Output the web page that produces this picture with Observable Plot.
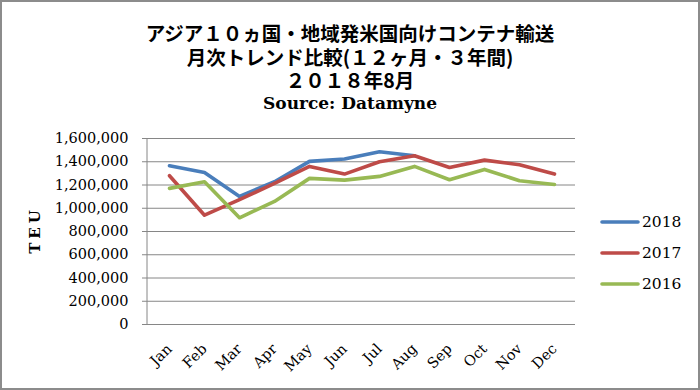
<!DOCTYPE html>
<html><head><meta charset="utf-8">
<script src="https://cdn.jsdelivr.net/npm/d3@7"></script>
<script src="https://cdn.jsdelivr.net/npm/@observablehq/plot@0.6"></script>
<style>
html,body{margin:0;padding:0;background:#fff;}
#frame{position:relative;width:700px;height:390px;box-sizing:border-box;border:2px solid #8c8c8c;background:#fff;overflow:hidden;}
#title{position:absolute;left:0;top:19px;width:696px;text-align:center;font-family:"Noto Sans CJK JP";font-weight:bold;font-size:19.5px;line-height:23.5px;color:#000;}
#title .src{font-family:"DejaVu Serif";font-weight:bold;font-size:17px;}
#chart{position:absolute;left:0;top:118px;}
#ylab{position:absolute;left:3px;top:219px;width:60px;height:18px;line-height:18px;font-family:"DejaVu Serif";font-weight:bold;font-size:15px;letter-spacing:4px;transform:rotate(-90deg);transform-origin:center;text-align:center;white-space:nowrap;}
#legend{position:absolute;left:598px;top:204px;font-family:"DejaVu Serif";font-size:15.5px;color:#000;}
#legend .item{display:flex;align-items:center;height:31px;}
#legend svg{margin-right:2px;}
</style>
</head><body>
<div id="frame">
  <div id="title"></div>
  <div id="chart"></div>
  <div id="ylab"></div>
  <div id="legend"></div>
</div>
<script>
const titleLines = ["アジア１０ヵ国・地域発米国向けコンテナ輸送", "月次トレンド比較(１２ヶ月・３年間)", "２０１８年8月"];
const sourceLine = "Source: Datamyne";
const yLabel = "TEU";
const months = ["Jan","Feb","Mar","Apr","May","Jun","Jul","Aug","Sep","Oct","Nov","Dec"];
const seriesNames = ["2018","2017","2016"];
const seriesColors = ["#4A7EBB","#BE4B48","#98B954"];
const v2018 = [1366000,1308000,1102000,1228000,1403000,1423000,1486000,1452000];
const v2017 = [1280000,940000,1074000,1214000,1360000,1294000,1400000,1451000,1351000,1414000,1374000,1294000];
const v2016 = [1171000,1228000,918000,1059000,1257000,1242000,1274000,1360000,1245000,1334000,1237000,1205000];
const yTicks = [0,200000,400000,600000,800000,1000000,1200000,1400000,1600000];

const title = document.getElementById("title");
titleLines.forEach(t => { const d = document.createElement("div"); d.textContent = t; title.appendChild(d); });
const s = document.createElement("div"); s.className = "src"; s.textContent = sourceLine; title.appendChild(s);
document.getElementById("ylab").textContent = yLabel;

const seriesValues = [v2018, v2017, v2016];
const rows = [];
seriesValues.forEach((vals, k) => vals.forEach((v, i) => rows.push({month: months[i], value: v, year: seriesNames[k]})));

const gray = "#868686";
const leftLine = (index, scales, values, dims) => {
  const g = d3.create("svg:line")
    .attr("x1", dims.marginLeft).attr("x2", dims.marginLeft)
    .attr("y1", dims.marginTop).attr("y2", dims.height - dims.marginBottom)
    .attr("stroke", gray);
  return g.node();
};

const chart = Plot.plot({
  width: 590,
  height: 270,
  marginLeft: 145,
  marginRight: 17,
  marginTop: 18,
  marginBottom: 66,
  style: {fontFamily: "DejaVu Serif", fontSize: "14.5px", color: "#000", background: "transparent"},
  x: {type: "point", domain: months, padding: 0.5, label: null},
  y: {domain: [0, 1600000], label: null},
  color: {domain: seriesNames, range: seriesColors},
  marks: [
    Plot.ruleY(yTicks, {stroke: gray, strokeWidth: 1}),
    leftLine,
    Plot.axisY({ticks: yTicks, tickFormat: d3.format(","), tickSize: 5, tickPadding: 14, stroke: gray, label: null}),
    Plot.axisX({tickSize: 0, tickRotate: -45, tickPadding: 22, fontSize: 14.5, label: null}),
    Plot.lineY(rows, {x: "month", y: "value", z: "year", stroke: "year", strokeWidth: 3.6, strokeLinejoin: "round", strokeLinecap: "round"})
  ]
});
document.getElementById("chart").appendChild(chart);

const legend = document.getElementById("legend");
seriesNames.forEach((n, k) => {
  const it = document.createElement("div"); it.className = "item";
  it.innerHTML = `<svg width="40" height="6"><line x1="2" x2="38" y1="3" y2="3" stroke="${seriesColors[k]}" stroke-width="3.6" stroke-linecap="round"/></svg><span>${n}</span>`;
  legend.appendChild(it);
});
</script>
</body></html>
